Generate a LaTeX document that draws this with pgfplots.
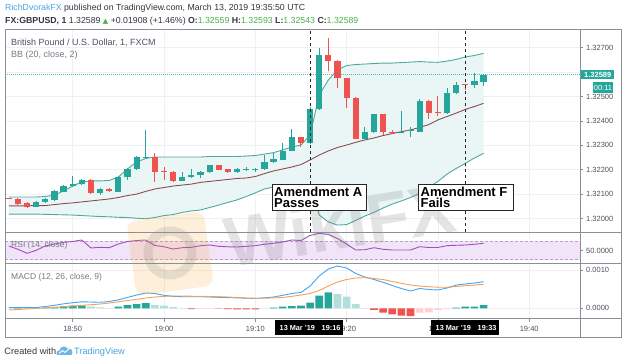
\documentclass[border=0pt]{standalone}
\usepackage{pgfplots}
\pgfplotsset{compat=1.18}
\usepackage{pgfplotstable}
\usepackage{fontspec}
\setmainfont{Liberation Sans}
\newfontfamily\dejavu{DejaVu Sans}
\definecolor{tvgreen}{HTML}{26A69A}
\definecolor{tvred}{HTML}{EF5350}
\definecolor{tvlgreen}{HTML}{B2DFDB}
\definecolor{tvpink}{HTML}{FFCDD2}
\definecolor{bbline}{HTML}{4FA89E}
\definecolor{bbmid}{HTML}{8E4A50}
\definecolor{bbfill}{HTML}{EAF6F5}
\definecolor{rsiline}{HTML}{A24EBD}
\definecolor{rsifill}{HTML}{F1E3F8}
\definecolor{rsidash}{HTML}{B9A3C4}
\definecolor{macdblue}{HTML}{42A5F5}
\definecolor{macdorange}{HTML}{F5A05A}
\definecolor{gridc}{HTML}{EDF0F4}
\definecolor{framec}{HTML}{8C8F96}
\definecolor{txt}{HTML}{4C525E}
\definecolor{lbl}{HTML}{787B86}
\definecolor{hdr}{HTML}{333640}
\definecolor{hgreen}{HTML}{4CAF50}
\definecolor{tvblue}{HTML}{4AA3DF}
\definecolor{wmgray}{HTML}{787878}
\definecolor{wmyellow}{HTML}{F5A623}

% GBP/USD 1-minute candles (x = minutes after 19:00)
\pgfplotstableread{
m o h l c
-14 1.32048 1.32070 1.32047 1.32068
-13 1.32066 1.32082 1.32064 1.32079
-12 1.32076 1.32117 1.32072 1.32113
-11 1.32110 1.32139 1.32107 1.32134
-10 1.32134 1.32174 1.32130 1.32143
-9 1.32140 1.32162 1.32137 1.32157
-7 1.32103 1.32126 1.32096 1.32121
-5 1.32110 1.32174 1.32107 1.32171
-4 1.32171 1.32207 1.32158 1.32203
-3 1.32203 1.32258 1.32199 1.32253
-2 1.32249 1.32363 1.32245 1.32253
2 1.32154 1.32192 1.32152 1.32169
3 1.32169 1.32202 1.32167 1.32178
4 1.32178 1.32193 1.32165 1.32191
5 1.32189 1.32221 1.32186 1.32218
8 1.32189 1.32205 1.32186 1.32202
9 1.32199 1.32210 1.32195 1.32202
10 1.32197 1.32205 1.32191 1.32201
11 1.32202 1.32260 1.32199 1.32233
12 1.32230 1.32267 1.32227 1.32243
13 1.32240 1.32308 1.32238 1.32278
14 1.32278 1.32367 1.32277 1.32333
16 1.32308 1.32458 1.32305 1.32449
17 1.32449 1.32698 1.32445 1.32670
22 1.32326 1.32376 1.32324 1.32353
23 1.32353 1.32430 1.32352 1.32427
26 1.32352 1.32441 1.32350 1.32356
27 1.32359 1.32375 1.32333 1.32363
28 1.32356 1.32488 1.32355 1.32483
31 1.32431 1.32534 1.32428 1.32516
32 1.32513 1.32561 1.32510 1.32547
34 1.32547 1.32598 1.32534 1.32564
35 1.32559 1.32593 1.32543 1.32589
}\up

\pgfplotstableread{
m o h l c
-17 1.32084 1.32086 1.32078 1.32080
-16 1.32079 1.32084 1.32054 1.32059
-15 1.32062 1.32066 1.32045 1.32048
-8 1.32157 1.32160 1.32100 1.32103
-6 1.32121 1.32124 1.32109 1.32111
-1 1.32252 1.32268 1.32151 1.32191
0 1.32195 1.32210 1.32158 1.32189
1 1.32191 1.32195 1.32148 1.32154
6 1.32218 1.32221 1.32197 1.32199
7 1.32202 1.32203 1.32186 1.32189
15 1.32333 1.32336 1.32294 1.32308
18 1.32670 1.32741 1.32604 1.32645
19 1.32645 1.32650 1.32534 1.32575
20 1.32575 1.32576 1.32452 1.32495
21 1.32495 1.32498 1.32324 1.32326
24 1.32427 1.32430 1.32342 1.32353
25 1.32356 1.32361 1.32348 1.32350
29 1.32483 1.32486 1.32407 1.32434
30 1.32438 1.32502 1.32420 1.32431
33 1.32550 1.32553 1.32527 1.32547
}\dn

\pgfplotstableread{
m u mid l
-17 1.32088 1.32052 1.32018
-16 1.32088 1.32052 1.32018
-15 1.32088 1.32052 1.32018
-14 1.32088 1.32053 1.32018
-13 1.32090 1.32053 1.32017
-12 1.32096 1.32057 1.32016
-11 1.32113 1.32061 1.32015
-10 1.32133 1.32064 1.32014
-9 1.32150 1.32068 1.32012
-8 1.32154 1.32072 1.32010
-7 1.32154 1.32076 1.32008
-6 1.32156 1.32080 1.32007
-5 1.32170 1.32086 1.32005
-4 1.32203 1.32094 1.32004
-3 1.32232 1.32100 1.32001
-2 1.32246 1.32111 1.31999
-1 1.32252 1.32121 1.32004
0 1.32252 1.32127 1.32012
1 1.32252 1.32133 1.32016
2 1.32252 1.32137 1.32025
3 1.32252 1.32141 1.32031
4 1.32252 1.32148 1.32035
5 1.32254 1.32152 1.32045
6 1.32254 1.32156 1.32055
7 1.32254 1.32160 1.32066
8 1.32254 1.32164 1.32076
9 1.32256 1.32166 1.32090
10 1.32258 1.32172 1.32105
11 1.32264 1.32184 1.32121
12 1.32270 1.32195 1.32129
13 1.32281 1.32203 1.32133
14 1.32293 1.32211 1.32133
15 1.32301 1.32221 1.32125
16 1.32342 1.32240 1.32137
17 1.32506 1.32260 1.32014
18 1.32568 1.32277 1.31986
19 1.32609 1.32291 1.31973
20 1.32627 1.32301 1.31975
21 1.32631 1.32312 1.31992
22 1.32633 1.32322 1.32010
23 1.32635 1.32330 1.32025
24 1.32637 1.32340 1.32043
25 1.32637 1.32348 1.32059
26 1.32639 1.32356 1.32072
27 1.32641 1.32363 1.32086
28 1.32643 1.32373 1.32103
29 1.32641 1.32385 1.32127
30 1.32640 1.32404 1.32152
31 1.32645 1.32418 1.32182
32 1.32652 1.32432 1.32205
33 1.32662 1.32447 1.32226
34 1.32668 1.32459 1.32248
35 1.32677 1.32472 1.32267
}\bb

% outline of the band area: upper band forward, lower band back
\pgfplotstableread{
m p
-17 1.32088
-16 1.32088
-15 1.32088
-14 1.32088
-13 1.32090
-12 1.32096
-11 1.32113
-10 1.32133
-9 1.32150
-8 1.32154
-7 1.32154
-6 1.32156
-5 1.32170
-4 1.32203
-3 1.32232
-2 1.32246
-1 1.32252
0 1.32252
1 1.32252
2 1.32252
3 1.32252
4 1.32252
5 1.32254
6 1.32254
7 1.32254
8 1.32254
9 1.32256
10 1.32258
11 1.32264
12 1.32270
13 1.32281
14 1.32293
15 1.32301
16 1.32342
17 1.32506
18 1.32568
19 1.32609
20 1.32627
21 1.32631
22 1.32633
23 1.32635
24 1.32637
25 1.32637
26 1.32639
27 1.32641
28 1.32643
29 1.32641
30 1.32640
31 1.32645
32 1.32652
33 1.32662
34 1.32668
35 1.32677
35 1.32267
34 1.32248
33 1.32226
32 1.32205
31 1.32182
30 1.32152
29 1.32127
28 1.32103
27 1.32086
26 1.32072
25 1.32059
24 1.32043
23 1.32025
22 1.32010
21 1.31992
20 1.31975
19 1.31973
18 1.31986
17 1.32014
16 1.32137
15 1.32125
14 1.32133
13 1.32133
12 1.32129
11 1.32121
10 1.32105
9 1.32090
8 1.32076
7 1.32066
6 1.32055
5 1.32045
4 1.32035
3 1.32031
2 1.32025
1 1.32016
0 1.32012
-1 1.32004
-2 1.31999
-3 1.32001
-4 1.32004
-5 1.32005
-6 1.32007
-7 1.32008
-8 1.32010
-9 1.32012
-10 1.32014
-11 1.32015
-12 1.32016
-13 1.32017
-14 1.32018
-15 1.32018
-16 1.32018
-17 1.32018
}\bbpoly

\pgfplotstableread{
m v
-17 60
-16 52.7
-15 43.8
-14 50.4
-13 60
-12 64.4
-11 68.2
-10 70
-9 73.3
-8 55.6
-7 57.1
-6 56.2
-5 64.4
-4 70
-3 72.2
-2 73.3
-1 61.1
0 58.4
1 53.3
2 56.2
3 57.1
4 60.7
5 62.2
6 59.3
7 58.2
8 57.8
9 59.3
10 60.7
11 63.8
12 66
13 68.9
14 73.3
15 72.2
16 83.3
17 88.2
18 85.6
19 76.7
20 64.4
21 51.1
22 51.8
23 56.2
24 52.7
25 51.1
26 51.1
27 51.1
28 58.4
29 56.7
30 56.7
31 60.7
32 61.6
33 62.2
34 63.8
35 66
}\rsi

\pgfplotstableread{
m macd sig
-17 0.000016 -0.000044
-16 0.000016 -0.000031
-15 0.000016 -0.000018
-14 0.000021 0.000000
-13 0.000047 0.000013
-12 0.000078 0.000026
-11 0.000117 0.000039
-10 0.000146 0.000060
-9 0.000170 0.000078
-8 0.000164 0.000094
-7 0.000157 0.000112
-6 0.000178 0.000138
-5 0.000222 0.000170
-4 0.000282 0.000204
-3 0.000347 0.000235
-2 0.000400 0.000269
-1 0.000386 0.000295
0 0.000339 0.000311
1 0.000313 0.000321
2 0.000303 0.000321
3 0.000303 0.000316
4 0.000303 0.000313
5 0.000295 0.000308
6 0.000287 0.000303
7 0.000279 0.000295
8 0.000272 0.000282
9 0.000264 0.000269
10 0.000258 0.000261
11 0.000274 0.000264
12 0.000295 0.000272
13 0.000339 0.000282
14 0.000386 0.000313
15 0.000413 0.000347
16 0.000582 0.000386
17 0.000843 0.000465
18 0.001026 0.000582
19 0.001104 0.000687
20 0.001052 0.000752
21 0.000909 0.000791
22 0.000817 0.000799
23 0.000752 0.000778
24 0.000679 0.000752
25 0.000595 0.000700
26 0.000517 0.000653
27 0.000452 0.000608
28 0.000517 0.000582
29 0.000491 0.000564
30 0.000478 0.000551
31 0.000530 0.000548
32 0.000608 0.000569
33 0.000634 0.000590
34 0.000661 0.000608
35 0.000695 0.000627
}\macd

\pgfplotsset{
  panel/.style={scale only axis, width=575pt, xmin=-17.415, xmax=45.564,
    axis line style={draw=none}, clip=true, scaled ticks=false,
    xtick={-10,0,10,20,30,40}, xmajorgrids,
    grid style={gridc, line width=0.7pt},
    tick align=outside, major tick length=3pt,
    xtick pos=left, ytick pos=right, yticklabel pos=right,
    ytick style={draw=framec, line width=0.6pt},
    yticklabel style={anchor=west, inner sep=0pt, xshift=3pt, text=txt, font=\fontsize{7.5}{8}\selectfont},
  },
  hbar/.style={ybar, bar width=7.6pt, bar shift=0pt, draw=none, fill=#1},
}
% price axis drawn in units of 0.00001 above 1.32000
\def\py#1{(\thisrow{#1}-1.32)*100000}

\begin{document}
\begin{tikzpicture}[x=1pt,y=1pt]
\fill[white] (0,0) rectangle (624,-363);

% ---------- main price panel ----------
\begin{scope}[shift={(5pt,-232.3pt)}]
\begin{axis}[panel, height=202.3pt,
  ymin=-56.56, ymax=772.54, ymajorgrids,
  xticklabels={}, xtick style={draw=none},
  ytick={0,100,200,300,400,500,600,700},
  yticklabels={1.32000,1.32100,1.32200,1.32300,1.32400,1.32500,{},1.32700}]
\addplot[fill=bbfill, draw=none, forget plot] table[x=m, y expr=\py{p}]{\bbpoly};
\addplot[bbline, line width=0.9pt] table[x=m, y expr=\py{u}]{\bb};
\addplot[bbline, line width=0.9pt] table[x=m, y expr=\py{l}]{\bb};
\addplot[bbmid, line width=0.9pt] table[x=m, y expr=\py{mid}]{\bb};
\addplot[tvgreen!80, line width=0.8pt, dash pattern=on 1pt off 1pt] coordinates {(-17.415,589) (45.564,589)};
% wicks
\addplot[tvgreen, line width=1pt, quiver={u=0, v={(\thisrow{h}-\thisrow{l})*100000}}] table[x=m, y expr=\py{l}]{\up};
\addplot[tvred, line width=1pt, quiver={u=0, v={(\thisrow{h}-\thisrow{l})*100000}}] table[x=m, y expr=\py{l}]{\dn};
% bodies
\addplot[tvgreen, line width=6.2pt, quiver={u=0, v={max((\thisrow{c}-\thisrow{o})*100000,2.6)}}] table[x=m, y expr=\py{o}]{\up};
\addplot[tvred, line width=6.2pt, quiver={u=0, v={max((\thisrow{o}-\thisrow{c})*100000,2.6)}}] table[x=m, y expr=\py{c}]{\dn};
% event lines
\addplot[black!85, line width=0.9pt, dash pattern=on 3.5pt off 2.5pt] coordinates {(16,-56.56) (16,772.54)};
\addplot[black!85, line width=0.9pt, dash pattern=on 3.5pt off 2.5pt] coordinates {(33,-56.56) (33,772.54)};
\end{axis}
\end{scope}

% ---------- RSI panel ----------
\begin{scope}[shift={(5pt,-263.3pt)}]
\begin{axis}[panel, height=31pt,
  ymin=21.6, ymax=90.4, xticklabels={}, xtick style={draw=none},
  ytick={50}, yticklabels={50.0000}]
\fill[rsifill] (axis cs:-17.415,30) rectangle (axis cs:45.564,70);
\draw[rsidash, line width=0.7pt, dash pattern=on 3pt off 2pt] (axis cs:-17.415,70) -- (axis cs:45.564,70);
\draw[rsidash, line width=0.7pt, dash pattern=on 3pt off 2pt] (axis cs:-17.415,30) -- (axis cs:45.564,30);
\addplot[rsiline, line width=0.9pt] table[x=m,y=v]{\rsi};
\end{axis}
\end{scope}

% ---------- MACD panel ----------
\begin{scope}[shift={(5pt,-319pt)}]
\begin{axis}[panel, height=55.7pt,
  ymin=-0.000279, ymax=0.001175, ymajorgrids,
  ytick={0,0.001}, yticklabels={0.0000,0.0010},
  xticklabels={18:50,19:00,19:10,19:20,19:30,19:40},
  xtick style={draw=framec, line width=0.6pt},
  xticklabel style={anchor=north, inner sep=0pt, yshift=-3.7pt, text=txt, font=\fontsize{7.5}{8}\selectfont}]
\addplot[hbar=tvgreen] coordinates {(-16,0.000005) (-14,0.00001) (-13,0.000018) (-12,0.000026) (-11,0.000052) (-10,0.000068) (-9,0.000072)
  (-5,0.000042) (-4,0.000086) (-3,0.000112) (-2,0.000138) (12,0.000016) (13,0.000047) (14,0.00006) (15,0.000072) (16,0.000146) (17,0.000329) (18,0.000418)
  (32,0.000016) (33,0.000042) (34,0.000044) (35,0.000086)};
\addplot[hbar=tvlgreen] coordinates {(-15,0.000003) (-8,0.000042) (-7,0.000026) (-6,0.000008) (-1,0.000086) (0,0.000068) (1,0.000034) (2,0.000008)
  (19,0.000373) (20,0.000303) (21,0.000112) (22,0.000008)};
\addplot[hbar=tvred] coordinates {(3,-0.000018) (6,-0.000008) (7,-0.000024) (8,-0.000026) (9,-0.000028) (10,-0.000031)
  (23,-0.000044) (24,-0.000115) (25,-0.000157) (26,-0.000193) (27,-0.000201)};
\addplot[hbar=tvpink] coordinates {(4,-0.000016) (5,-0.000005) (11,-0.000008) (28,-0.000115) (29,-0.000104) (30,-0.000044) (31,-0.000018)};
\addplot[macdblue, line width=0.9pt] table[x=m,y=macd]{\macd};
\addplot[macdorange, line width=0.9pt] table[x=m,y=sig]{\macd};
\end{axis}
\end{scope}

% ---------- watermark (under boxes and labels) ----------
\begin{scope}[opacity=0.17]
\fill[wmyellow, rounded corners=9pt, rotate around={8:(170,-253)}] (131,-216) rectangle (209,-291);
\draw[wmgray, line width=9pt] (170,-253) circle (22);
\end{scope}
\node[rotate=9, opacity=0.2, text=wmgray, font=\bfseries\fontsize{70}{70}\selectfont, inner sep=0pt] at (340,-224) {WikiFX};

% ---------- frame ----------
\draw[framec, line width=1pt] (5,-30) rectangle (621.5,-337.7);
\draw[framec, line width=1pt] (5,-232.3) -- (621.5,-232.3);
\draw[framec, line width=1pt] (5,-263.3) -- (621.5,-263.3);
\draw[framec, line width=1pt] (5,-319) -- (621.5,-319);
\draw[framec, line width=1pt] (580,-30) -- (580,-337.7);

% ---------- price & time labels ----------
\fill[tvgreen] (580.5,-69.8) rectangle (614,-79.4);
\node[anchor=west, inner sep=0pt, text=white, font=\bfseries\fontsize{7.5}{8}\selectfont] at (584,-74.6) {1.32589};
\fill[tvgreen] (593,-82.5) rectangle (613,-92.6);
\node[anchor=center, inner sep=0pt, text=white, font=\fontsize{7.5}{8}\selectfont] at (603,-87.6) {00:11};

\fill[black] (275,-320) rectangle (343.3,-335);
\node[anchor=west, inner sep=0pt, text=white, font=\bfseries\fontsize{7.3}{8}\selectfont] at (279.5,-327.6) {13 Mar '19};
\node[anchor=west, inner sep=0pt, text=white, font=\bfseries\fontsize{7.3}{8}\selectfont] at (321.5,-327.6) {19:16};
\fill[black] (431,-320) rectangle (499.3,-335);
\node[anchor=west, inner sep=0pt, text=white, font=\bfseries\fontsize{7.3}{8}\selectfont] at (435.5,-327.6) {13 Mar '19};
\node[anchor=west, inner sep=0pt, text=white, font=\bfseries\fontsize{7.3}{8}\selectfont] at (477.5,-327.6) {19:33};

% ---------- annotation boxes ----------
\draw[black!85, line width=1pt, fill=white] (272,-185) rectangle (366,-210.5);
\node[anchor=base west, inner sep=0pt, font=\bfseries\fontsize{13}{11}\selectfont, text=black] at (274,-196.7) {Amendment A};
\node[anchor=base west, inner sep=0pt, font=\bfseries\fontsize{13}{11}\selectfont, text=black] at (274,-207.8) {Passes};
\draw[black!85, line width=1pt, fill=white] (418.3,-185) rectangle (513,-210.7);
\node[anchor=base west, inner sep=0pt, font=\bfseries\fontsize{13}{11}\selectfont, text=black] at (420.5,-196.7) {Amendment F};
\node[anchor=base west, inner sep=0pt, font=\bfseries\fontsize{13}{11}\selectfont, text=black] at (420.5,-207.8) {Fails};

% ---------- header & panel titles ----------
\node[anchor=base west, inner sep=0pt, font=\fontsize{8.75}{10}\selectfont] at (5,-10.7)
  {\textcolor{tvblue}{RichDvorakFX} \textcolor{hdr}{published on TradingView.com, March 13, 2019 19:35:50 UTC}};
\node[anchor=base west, inner sep=0pt, font=\fontsize{8.75}{10}\selectfont, text=hdr] at (5,-24)
  {\textbf{FX:GBPUSD, 1} 1.32589 \textcolor{hgreen}{\dejavu\fontsize{7}{8}\selectfont ▲} +0.01908 (+1.46\%) \textbf{O:}\textcolor{hgreen}{1.32559} \textbf{H:}\textcolor{hgreen}{1.32593} \textbf{L:}\textcolor{hgreen}{1.32543} \textbf{C:}\textcolor{hgreen}{1.32589}};
\node[anchor=base west, inner sep=0pt, font=\fontsize{9}{10}\selectfont, text=txt] at (11,-46) {British Pound / U.S. Dollar, 1, FXCM};
\node[anchor=base west, inner sep=0pt, font=\fontsize{9}{10}\selectfont, text=lbl] at (11,-57.3) {BB (20, close, 2)};
\node[anchor=base west, inner sep=0pt, font=\fontsize{8.5}{10}\selectfont, text=lbl] at (11,-247.7) {RSI (14, close)};
\node[anchor=base west, inner sep=0pt, font=\fontsize{8.5}{10}\selectfont, text=lbl] at (11,-279.3) {MACD (12, 26, close, 9)};

% ---------- footer ----------
\node[anchor=base west, inner sep=0pt, font=\fontsize{9.2}{10}\selectfont, text=hdr] at (4.3,-354.3) {Created with};
\fill[tvblue!80] (57.5,-355) .. controls (56,-355) and (56,-350) .. (59.5,-350.5)
  .. controls (60,-346) and (66,-345.5) .. (67.5,-348.5)
  .. controls (71.5,-347.5) and (74,-352) .. (71.5,-355) -- cycle;
\draw[white, line width=0.9pt] (59,-353.5) -- (62.5,-350.5) -- (65,-352.5) -- (69.5,-348.5);
\node[anchor=base west, inner sep=0pt, font=\fontsize{9.2}{10}\selectfont, text=tvblue] at (74,-354.3) {TradingView};
\end{tikzpicture}
\end{document}
